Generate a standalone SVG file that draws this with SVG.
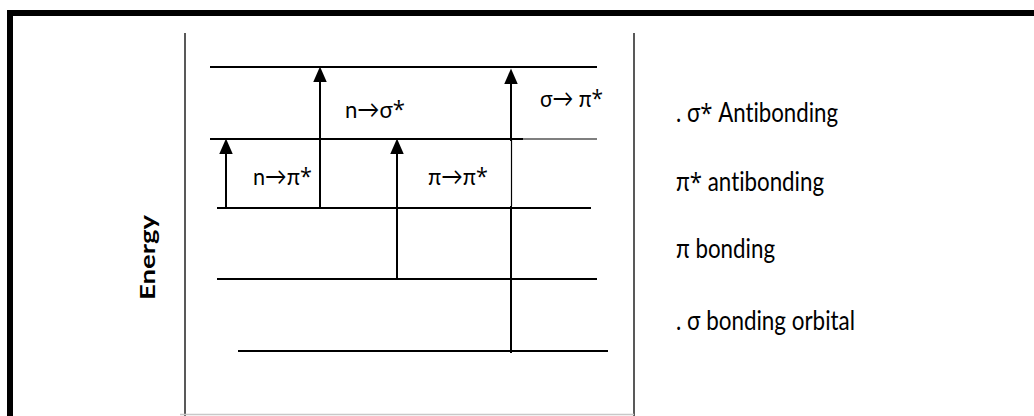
<svg xmlns="http://www.w3.org/2000/svg" width="1034" height="416" viewBox="0 0 1034 416">
  <style>
    .frame { fill: none; stroke: #000; stroke-width: 6; }
    .axis { stroke: #222; stroke-width: 1.5; fill: none; }
    .lvl { stroke: #000; stroke-width: 2; fill: none; }
    .thin { stroke: #000; stroke-width: 1.2; fill: none; }
    .arr { stroke: #000; stroke-width: 2; fill: none; marker-end: url(#ah); }
    text { font-variant-ligatures: none; font-feature-settings: "liga" 0; }
    .lab { font-family: Lato, "Open Sans", "DejaVu Sans", sans-serif; font-size: 24px; fill: #000; }
    .leg { font-family: Lato, "Open Sans", "DejaVu Sans", sans-serif; font-size: 26px; fill: #000; }
    .st { font-family: "Open Sans", "DejaVu Sans", sans-serif; }
    .energy { font-family: Lato, "Open Sans", "DejaVu Sans", sans-serif; font-size: 21px; font-weight: bold; fill: #000; }
  </style>
  <defs>
    <marker id="ah" markerUnits="userSpaceOnUse" markerWidth="16" markerHeight="14" viewBox="0 0 15 13" refX="7" refY="6.5" orient="auto">
      <path d="M0,0 L15,6.5 L0,13 Z" fill="#000"/>
    </marker>
  </defs>
  <rect width="1034" height="416" fill="#fff"/>
  <g id="frame">
    <rect class="frame" x="10" y="13" width="1100" height="500"/>
    <line class="axis" x1="185" y1="33" x2="185" y2="416"/>
    <line class="axis" x1="634" y1="33" x2="634" y2="416"/>
    <line x1="180" y1="414.5" x2="634" y2="414.5" stroke="#c8c8c8" stroke-width="1.5"/>
    <text class="energy" transform="translate(155,257.5) rotate(-90)" text-anchor="middle" textLength="85" lengthAdjust="spacingAndGlyphs">Energy</text>
  </g>
  <g id="level-sigma-star">
    <line class="lvl" x1="210" y1="67" x2="597" y2="67"/>
  </g>
  <g id="level-pi-star">
    <line class="lvl" x1="210" y1="139" x2="523" y2="139"/>
    <line class="thin" x1="523" y1="139" x2="597" y2="139"/>
  </g>
  <g id="level-n">
    <line class="lvl" x1="217" y1="208" x2="591" y2="208"/>
  </g>
  <g id="level-pi">
    <line class="lvl" x1="217" y1="279" x2="597" y2="279"/>
  </g>
  <g id="level-sigma">
    <line class="lvl" x1="238" y1="351" x2="608" y2="351"/>
  </g>
  <g id="connectors">
    <line class="arr" x1="226" y1="208" x2="226" y2="147"/>
    <line class="arr" x1="320" y1="208" x2="320" y2="75"/>
    <line class="arr" x1="397" y1="279" x2="397" y2="147"/>
    <line class="lvl" x1="511" y1="353" x2="511" y2="206"/>
    <line class="thin" x1="511.5" y1="206" x2="511.5" y2="139"/>
    <line class="arr" x1="511" y1="141" x2="511" y2="77"/>
  </g>
  <g id="labels">
    <text class="lab" x="253" y="185" textLength="59" lengthAdjust="spacingAndGlyphs">n→π<tspan class="st">*</tspan></text>
    <text class="lab" x="345" y="118" textLength="60" lengthAdjust="spacingAndGlyphs">n→σ<tspan class="st">*</tspan></text>
    <text class="lab" x="428" y="185" textLength="60" lengthAdjust="spacingAndGlyphs">π→π<tspan class="st">*</tspan></text>
    <text class="lab" x="540" y="107" textLength="63" lengthAdjust="spacingAndGlyphs">σ→ π<tspan class="st">*</tspan></text>
  </g>
  <g id="legend">
    <text class="leg" x="676" y="122" textLength="162" lengthAdjust="spacingAndGlyphs">. σ<tspan class="st">*</tspan> Antibonding</text>
    <text class="leg" x="676" y="191" textLength="148" lengthAdjust="spacingAndGlyphs">π<tspan class="st">*</tspan> antibonding</text>
    <text class="leg" x="676" y="258" textLength="99" lengthAdjust="spacingAndGlyphs">π bonding</text>
    <text class="leg" x="676" y="330" textLength="179" lengthAdjust="spacingAndGlyphs">. σ bonding orbital</text>
  </g>
</svg>
